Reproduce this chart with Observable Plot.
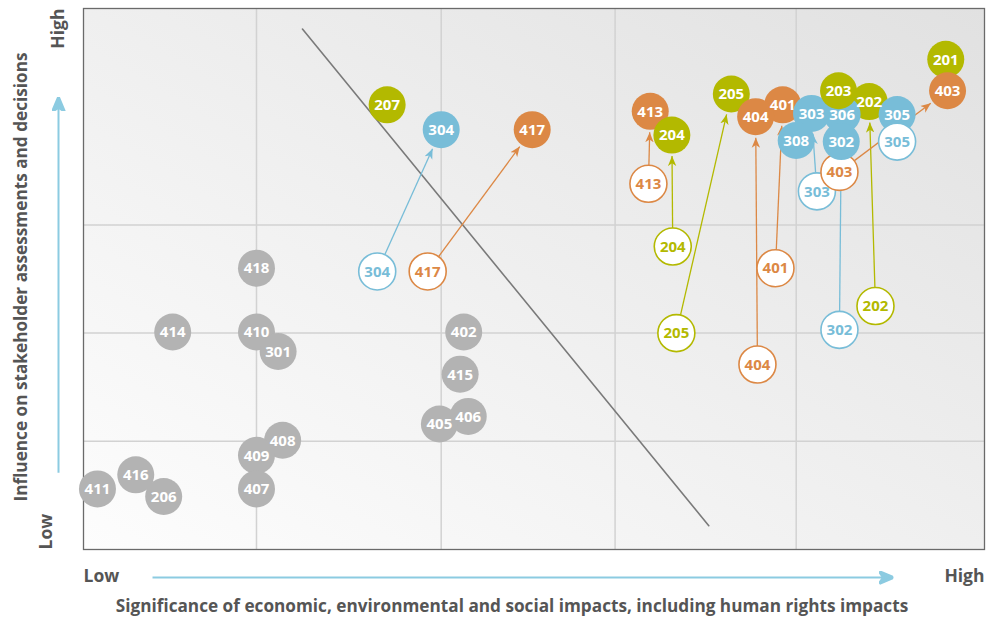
<!DOCTYPE html>
<html><head><meta charset="utf-8">
<script src="https://cdn.jsdelivr.net/npm/d3@7"></script>
<script src="https://cdn.jsdelivr.net/npm/@observablehq/plot@0.6"></script>
<style>body{margin:0;background:#fff;} svg{display:block}</style>
</head><body><div id="chart"></div>
<script>
// ---- data ----
// not-material topics (grey)
const greyIds = ["418","414","410","301","408","409","407","411","416","206","402","415","406","405"];
const greyX   = [1.92, 0.99, 1.92, 2.16, 2.21, 1.92, 1.92, 0.155, 0.58, 0.89, 4.22, 4.18, 4.27, 3.95];
const greyY   = [2.60, 2.01, 2.01, 1.83, 1.01, 0.87, 0.56, 0.56, 0.69, 0.49, 2.01, 1.62, 1.23, 1.16];

// material topics, current position and prior-year position (null = unchanged)
const topicIds    = ["207","413","204","205","401","404","303","308","202","306","203","302","305","201","403","304","417"];
const topicSeries = ["eco","soc","eco","eco","soc","soc","env","env","eco","env","eco","env","env","eco","soc","env","soc"];
const topicX      = [3.37, 6.29, 6.53, 7.19, 7.76, 7.46, 8.08, 7.91, 8.72, 8.42, 8.38, 8.41, 9.03, 9.57, 9.59, 3.97, 4.98];
const topicY      = [4.11, 4.05, 3.83, 4.21, 4.11, 4.00, 4.03, 3.78, 4.14, 4.02, 4.24, 3.77, 4.02, 4.53, 4.24, 3.88, 3.88];
const priorX      = [null, 6.27, 6.54, 6.58, 7.68, 7.48, 8.14, null, 8.79, null, null, 8.39, 9.03, null, 8.39, 3.26, 3.82];
const priorY      = [null, 3.38, 2.80, 2.00, 2.60, 1.71, 3.31, null, 2.25, null, null, 2.03, 3.77, null, 3.49, 2.57, 2.57];

const seriesNames  = ["eco","env","soc"];
const seriesColors = ["#b3b900","#78bdd8","#dc8845"];
const greyColor = "#b3b3b3";

const gridX = [1.92, 3.97, 5.90, 7.91];
const gridY = [1, 2, 3];
const diagX = [2.43, 6.94];
const diagY = [4.81, 0.22];
const xArrow = [0.766, 8.99];
const yArrow = [0.71, 4.18];

const xTitle = "Significance of economic, environmental and social impacts, including human rights impacts";
const yTitle = "Influence on stakeholder assessments and decisions";
const lowLabel = "Low", highLabel = "High";

// ---- layout ----
const W = 986, H = 619;
const M = {left: 83, right: 2, top: 8, bottom: 70};
const xDomain = [0, 10], yDomain = [0, 5];
const kx = (W - M.left - M.right) / (xDomain[1] - xDomain[0]);
const ky = (H - M.top - M.bottom) / (yDomain[1] - yDomain[0]);
const R = 18.5;
const endInset = 21;
const colorOf = s => seriesColors[seriesNames.indexOf(s)];
const labelColor = "#555";
const axisBlue = "#8ccbe1";
const titleSize = 17.2, endSize = 17.5;

function stealth(size) {
  return (color, context) => {
    const doc = (context && context.document) || document;
    const ns = "http://www.w3.org/2000/svg";
    const m = doc.createElementNS(ns, "marker");
    m.setAttribute("viewBox", "-10 -5 10 10");
    m.setAttribute("markerWidth", size);
    m.setAttribute("markerHeight", size);
    m.setAttribute("markerUnits", "userSpaceOnUse");
    m.setAttribute("orient", "auto");
    m.setAttribute("refX", 0);
    m.setAttribute("refY", 0);
    const p = doc.createElementNS(ns, "path");
    p.setAttribute("d", "M0,0L-10,-4.2L-7.2,0L-10,4.2Z");
    p.setAttribute("fill", color);
    m.appendChild(p);
    return m;
  };
}

// ---- build mark data ----
const grey = greyIds.map((id, i) => ({id, x: greyX[i], y: greyY[i], fill: greyColor, stroke: "none", tc: "#fff"}));
const current = topicIds.map((id, i) => ({id, x: topicX[i], y: topicY[i], fill: colorOf(topicSeries[i]), stroke: "none", tc: "#fff"}));
const priors = [];
topicIds.forEach((id, i) => {
  if (priorX[i] == null) return;
  const c = colorOf(topicSeries[i]);
  const p = {id, x: priorX[i], y: priorY[i], fill: "#fff", stroke: c, tc: c};
  const dxp = (topicX[i] - priorX[i]) * kx, dyp = (topicY[i] - priorY[i]) * ky;
  const len = Math.hypot(dxp, dyp);
  p.dist = len;
  if (len > R + endInset + 6) {
    p.arrow = {x1: priorX[i], y1: priorY[i],
      x2: topicX[i] - dxp / len * endInset / kx,
      y2: topicY[i] - dyp / len * endInset / ky, stroke: c};
  }
  priors.push(p);
});
const circles = [
  ...grey,
  ...priors.filter(p => p.dist >= 2 * R),
  ...current,
  ...priors.filter(p => p.dist < 2 * R)
];
const arrows = priors.filter(p => p.arrow).map(p => p.arrow);

const bgDefs = () => {
  const defs = d3.create("svg:defs");
  const g = defs.append("linearGradient").attr("id", "bggrad")
    .attr("x1", 0).attr("y1", 1).attr("x2", 1).attr("y2", 0);
  g.append("stop").attr("offset", "0%").attr("stop-color", "#fdfdfd");
  g.append("stop").attr("offset", "100%").attr("stop-color", "#e1e1e1");
  return defs.node();
};

const chart = Plot.plot({
  width: W, height: H,
  marginLeft: M.left, marginRight: M.right, marginTop: M.top, marginBottom: M.bottom,
  x: {domain: xDomain, axis: null},
  y: {domain: yDomain, axis: null},
  color: {type: "identity"},
  style: {fontFamily: "'Open Sans', sans-serif", background: "#fff"},
  marks: [
    bgDefs,
    Plot.frame({fill: "url(#bggrad)"}),
    Plot.ruleX(gridX, {stroke: "#d2d2d2", strokeWidth: 1.5}),
    Plot.ruleY(gridY, {stroke: "#d2d2d2", strokeWidth: 1.5}),
    Plot.frame({stroke: "#6a6a6a", strokeWidth: 1.3}),
    Plot.line(diagX.map((x, i) => ({x, y: diagY[i]})), {x: "x", y: "y", stroke: "#7a7a7a", strokeWidth: 1.6}),
    Plot.link(arrows, {x1: "x1", y1: "y1", x2: "x2", y2: "y2", stroke: "stroke", strokeWidth: 1.3, markerEnd: stealth(10)}),
    Plot.dot(circles, {x: "x", y: "y", r: R, fill: "fill", stroke: "stroke", strokeWidth: 1.6}),
    Plot.text(circles, {x: "x", y: "y", text: "id", fill: "tc", fontSize: 15, fontWeight: 700, dy: 0.5}),
    // axis arrows and labels
    Plot.link([0], {x1: () => xArrow[0], x2: () => xArrow[1], y1: () => yDomain[0], y2: () => yDomain[0], dy: 28, stroke: axisBlue, strokeWidth: 2, markerEnd: stealth(14), clip: false}),
    Plot.link([0], {x1: () => xDomain[0], x2: () => xDomain[0], y1: () => yArrow[0], y2: () => yArrow[1], dx: -25, stroke: axisBlue, strokeWidth: 2, markerEnd: stealth(14), clip: false}),
    Plot.text([lowLabel], {frameAnchor: "bottom-left", textAnchor: "start", dy: 32, fontSize: endSize, fontWeight: 700, fill: labelColor}),
    Plot.text([highLabel], {frameAnchor: "bottom-right", textAnchor: "end", dy: 32, fontSize: endSize, fontWeight: 700, fill: labelColor}),
    Plot.text([xTitle], {frameAnchor: "bottom", textAnchor: "middle", dx: -22, dy: 62, fontSize: titleSize, fontWeight: 700, fill: labelColor}),
    Plot.text([highLabel], {frameAnchor: "top-left", textAnchor: "end", rotate: -90, dx: -32, fontSize: endSize, fontWeight: 700, fill: labelColor}),
    Plot.text([lowLabel], {frameAnchor: "bottom-left", textAnchor: "start", rotate: -90, dx: -32, fontSize: endSize, fontWeight: 700, fill: labelColor}),
    Plot.text([yTitle], {frameAnchor: "left", textAnchor: "middle", rotate: -90, dx: -62, dy: -2, fontSize: titleSize, fontWeight: 700, fill: labelColor})
  ]
});
document.getElementById("chart").appendChild(chart);
</script></body></html>
